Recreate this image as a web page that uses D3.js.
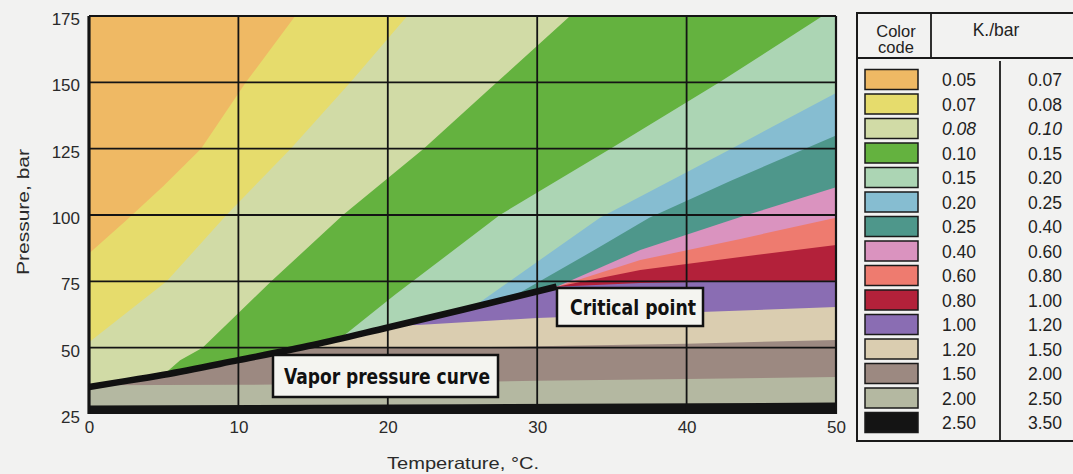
<!DOCTYPE html>
<html>
<head>
<meta charset="utf-8">
<script src="https://cdn.jsdelivr.net/npm/d3@7"></script>
<style>
	body { margin: 0; background: #f2f2f1; }
	svg { display: block; font-family: Arial, "Liberation Sans", Helvetica, sans-serif; }
</style>
</head>
<body>
<div id="chart"></div>
<script>
const tempTicks = [0, 10, 20, 30, 40, 50];
const pressTicks = [25, 50, 75, 100, 125, 150, 175];

// color code, top-left band first
const bandColors = ["#efb964", "#e6dc6c", "#d1dba6", "#64b23f", "#acd5b4", "#86bdd1", "#4e978b",
	"#da93bf", "#ee7b6f", "#b3213a", "#8a6db3", "#dacdb0", "#9c8981", "#b4b8a1", "#141414"];
const kLow = ["0.05", "0.07", "0.08", "0.10", "0.15", "0.20", "0.25", "0.40", "0.60", "0.80", "1.00", "1.20", "1.50", "2.00", "2.50"];
const kHigh = ["0.07", "0.08", "0.10", "0.15", "0.20", "0.25", "0.40", "0.60", "0.80", "1.00", "1.20", "1.50", "2.00", "2.50", "3.50"];

// band boundaries as [temperature °C, pressure bar]
const orangeYellow = [[0, 85.5], [2.5, 98], [5, 111], [7.5, 125], [10.5, 150], [13.8, 175]];
const yellowLtgreen = [[0, 52], [5.2, 75], [9.2, 100], [13.5, 125], [17.5, 150], [21.3, 175]];
const ltgreenGreen = [[3, 30], [6.1, 45.3], [7.6, 50], [12.2, 75], [17, 100], [22.4, 125], [27.3, 150], [32.2, 175]];
const greenPalegreen = [[14, 42], [16.5, 52], [20.5, 70], [27.5, 100], [34.9, 125], [42.2, 150], [49.1, 175]];
const palegreenBlue = [[22, 50], [25.5, 64.5], [34.2, 99], [43, 125], [50, 146]];
const blueTeal = [[26, 60], [28.8, 70.6], [34.2, 88], [37.5, 99], [43, 113], [50, 130]];
const tealPink = [[31.3, 73], [36.9, 86.8], [43.6, 99.2], [50, 110.5]];
const pinkSalmon = [[31.3, 73], [36.9, 83], [43.6, 91], [50, 99]];
const salmonRed = [[31.3, 73], [36.9, 79.3], [43.6, 84.2], [50, 88.7]];

const vaporCurve = [[0, 35.2], [2, 37], [5, 39.8], [10, 45.3], [15, 51], [20, 57.6], [25, 64.3], [31.3, 73]];
const redPurple = [[31.3, 73], [36.9, 74.4], [43.6, 75], [50, 75.2]];
const purpleBeige = [[0, 56], [22, 58.5], [30, 61.2], [40, 63.3], [50, 65.3]];
const beigeBrown = [[0, 49.5], [20, 49.8], [30, 50.5], [40, 51.5], [50, 52.9]];
const brownGray = [[0, 35.8], [10, 36], [20, 36.6], [30, 37.5], [40, 38.2], [50, 38.9]];
const grayBlack = [[0, 28.2], [25, 28.7], [50, 29.3]];

const W = 1073, H = 474;
const plot = { left: 89, right: 836, top: 16, bottom: 414 };

const svg = d3.select("#chart").append("svg").attr("width", W).attr("height", H);

const x = d3.scaleLinear().domain([0, 50]).range([plot.left, plot.right]);
const y = d3.scaleLinear().domain([25, 175]).range([plot.bottom, plot.top]);

const line = d3.line().x(d => x(d[0])).y(d => y(d[1]));

// area below / right of a boundary
function belowPoly(pts) {
	const last = pts[pts.length - 1];
	return pts.concat([[60, last[1]], [60, 0], [pts[0][0], 0]]);
}

const defs = svg.append("defs");
defs.append("clipPath").attr("id", "plot-clip")
	.append("rect")
	.attr("x", plot.left).attr("y", plot.top)
	.attr("width", plot.right - plot.left).attr("height", plot.bottom - plot.top);

const envelope = vaporCurve.concat(redPurple.slice(1));
defs.append("clipPath").attr("id", "gas-clip")
	.append("path")
	.attr("d", line(envelope.concat([[60, 75.2], [60, 0], [-10, 0], [-10, 35.2]])) + "Z");

const field = svg.append("g").attr("clip-path", "url(#plot-clip)");

// liquid / supercritical side
field.append("rect")
	.attr("x", plot.left).attr("y", plot.top)
	.attr("width", plot.right - plot.left).attr("height", plot.bottom - plot.top)
	.attr("fill", bandColors[0]);

const liquidEdges = [orangeYellow, yellowLtgreen, ltgreenGreen, greenPalegreen, palegreenBlue,
	blueTeal, tealPink, pinkSalmon, salmonRed];
liquidEdges.forEach((pts, i) => {
	field.append("path")
		.attr("d", line(belowPoly(pts)) + "Z")
		.attr("fill", bandColors[i + 1]);
});

// gas side, below vapor curve
const gas = field.append("g").attr("clip-path", "url(#gas-clip)");
gas.append("rect")
	.attr("x", plot.left).attr("y", plot.top)
	.attr("width", plot.right - plot.left).attr("height", plot.bottom - plot.top)
	.attr("fill", bandColors[10]);
[purpleBeige, beigeBrown, brownGray, grayBlack].forEach((pts, i) => {
	gas.append("path")
		.attr("d", line(belowPoly(pts)) + "Z")
		.attr("fill", bandColors[11 + i]);
});

// grid
const grid = svg.append("g").attr("stroke", "#141414").attr("stroke-width", 1.8);
grid.selectAll(".vg").data(tempTicks.slice(1, -1)).enter().append("line")
	.attr("x1", d => x(d)).attr("x2", d => x(d))
	.attr("y1", plot.top).attr("y2", plot.bottom);
grid.selectAll(".hg").data(pressTicks.slice(1, -1)).enter().append("line")
	.attr("x1", plot.left).attr("x2", plot.right)
	.attr("y1", d => y(d)).attr("y2", d => y(d));
grid.append("line").attr("x1", plot.left).attr("x2", plot.right).attr("y1", plot.top).attr("y2", plot.top).attr("stroke-width", 2.2);
grid.append("line").attr("x1", plot.right).attr("x2", plot.right).attr("y1", plot.top).attr("y2", plot.bottom).attr("stroke-width", 2.2);
grid.append("line").attr("x1", plot.left).attr("x2", plot.left).attr("y1", plot.top).attr("y2", plot.bottom).attr("stroke-width", 3.2);

// vapor pressure curve
svg.append("path")
	.attr("d", d3.line().x(d => x(d[0])).y(d => y(d[1])).curve(d3.curveMonotoneX)(vaporCurve))
	.attr("fill", "none")
	.attr("stroke", "#111")
	.attr("stroke-width", 6.5);

// axes
const yAxis = svg.append("g")
	.attr("transform", `translate(${plot.left},0)`)
	.call(d3.axisLeft(y).tickValues(pressTicks).tickSize(0).tickPadding(9));
yAxis.select(".domain").remove();
yAxis.selectAll("text").attr("dy", "0.5em");

const xAxis = svg.append("g")
	.attr("transform", `translate(0,${plot.bottom})`)
	.call(d3.axisBottom(x).tickValues(tempTicks).tickSize(0).tickPadding(7));
xAxis.select(".domain").remove();

svg.selectAll(".tick text")
	.attr("fill", "#2a2a2a")
	.style("font-size", "17px")
	.style("font-family", "Arial, 'Liberation Sans', sans-serif");

svg.append("text")
	.attr("transform", "translate(29,212) rotate(-90)")
	.attr("text-anchor", "middle")
	.attr("textLength", 126)
	.attr("lengthAdjust", "spacingAndGlyphs")
	.attr("fill", "#2a2a2a")
	.style("font-size", "16.5px")
	.text("Pressure, bar");

svg.append("text")
	.attr("x", 463).attr("y", 469)
	.attr("text-anchor", "middle")
	.attr("textLength", 152)
	.attr("lengthAdjust", "spacingAndGlyphs")
	.attr("fill", "#2a2a2a")
	.style("font-size", "16.5px")
	.text("Temperature, °C.");

// callouts
function callout(bx, by, bw, bh, label, tx, tw) {
	svg.append("rect")
		.attr("x", bx).attr("y", by).attr("width", bw).attr("height", bh)
		.attr("fill", "#f4f4f0").attr("stroke", "#111").attr("stroke-width", 2.5);
	svg.append("text")
		.attr("x", tx).attr("y", by + bh / 2 + 8)
		.attr("textLength", tw).attr("lengthAdjust", "spacingAndGlyphs")
		.attr("fill", "#111")
		.style("font-family", "'Liberation Sans Narrow', 'Arial Narrow', 'DejaVu Sans Condensed', sans-serif")
		.style("font-weight", "bold")
		.style("font-size", "22px")
		.text(label);
}
callout(273, 355, 225, 42, "Vapor pressure curve", 284, 206);
callout(557, 288, 146, 38, "Critical point", 570, 126);

// legend
const lg = svg.append("g").attr("stroke", "#1a1a1a").attr("fill", "none");
lg.append("path").attr("d", "M1075,13 H857 V441 H1075").attr("stroke-width", 2);
lg.append("line").attr("x1", 857).attr("x2", 1075).attr("y1", 58).attr("y2", 58).attr("stroke-width", 2.2);
lg.append("line").attr("x1", 931).attr("x2", 931).attr("y1", 13).attr("y2", 58).attr("stroke-width", 1.8);
lg.append("line").attr("x1", 1000).attr("x2", 1000).attr("y1", 61).attr("y2", 441).attr("stroke-width", 1.8);

const hdr = svg.append("g").attr("fill", "#222").attr("text-anchor", "middle");
hdr.append("text").attr("x", 896).attr("y", 37).style("font-size", "16.5px").text("Color");
hdr.append("text").attr("x", 896).attr("y", 53).style("font-size", "16.5px").text("code");
hdr.append("text").attr("x", 996).attr("y", 36).style("font-size", "17.5px").text("K./bar");

const rowY = i => 79.5 + i * 24.5;
const rows = svg.append("g").selectAll("g").data(bandColors).enter().append("g");
rows.append("rect")
	.attr("x", 865).attr("y", (d, i) => rowY(i) - 10)
	.attr("width", 53).attr("height", 20)
	.attr("fill", d => d)
	.attr("stroke", "#1a1a1a").attr("stroke-width", 1.5);
rows.append("text")
	.attr("x", 959).attr("y", (d, i) => rowY(i) + 6.5)
	.attr("text-anchor", "middle").attr("fill", "#222")
	.style("font-size", "17.5px")
	.style("font-style", (d, i) => i === 2 ? "italic" : "normal")
	.text((d, i) => kLow[i]);
rows.append("text")
	.attr("x", 1045).attr("y", (d, i) => rowY(i) + 6.5)
	.attr("text-anchor", "middle").attr("fill", "#222")
	.style("font-size", "17.5px")
	.style("font-style", (d, i) => i === 2 ? "italic" : "normal")
	.text((d, i) => kHigh[i]);
</script>
</body>
</html>
